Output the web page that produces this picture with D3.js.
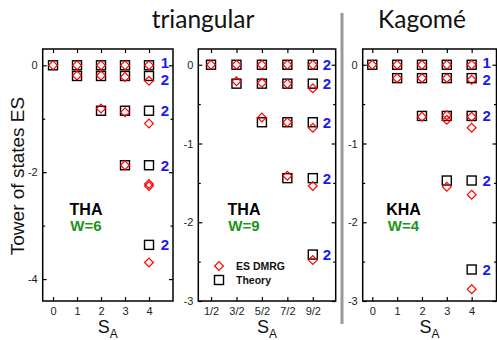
<!DOCTYPE html>
<html>
<head>
<meta charset="utf-8">
<script src="https://cdn.jsdelivr.net/npm/d3@7"></script>
<style>
  body { margin: 0; background: #fff; }
  svg { display: block; }
</style>
</head>
<body>
<script>
// x axis values (S_A)
var sInt = [0, 1, 2, 3, 4];
var sIntLabels = ["0", "1", "2", "3", "4"];
var sHalf = [0.5, 1.5, 2.5, 3.5, 4.5];
var sHalfLabels = ["1/2", "3/2", "5/2", "7/2", "9/2"];

// THA, W=6 : [S_A, ES level]
var thaW6Theory = [[0,0],[1,0],[2,0],[3,0],[4,0],
  [1,-0.2],[2,-0.2],[3,-0.2],[4,-0.2],
  [2,-0.85],[3,-0.85],[4,-0.85],
  [3,-1.87],[4,-1.87],
  [4,-3.36]];
var thaW6Dmrg = [[0,0],[1,0],[2,0],[3,0],[4,0],
  [1,-0.19],[2,-0.19],[3,-0.22],[4,-0.29],
  [2,-0.81],[3,-0.88],[4,-1.09],
  [3,-1.87],[4,-2.22],[4,-2.26],
  [4,-3.69]];
var thaW6Deg = [[0,1],[-0.2,2],[-0.85,2],[-1.87,2],[-3.36,2]];

// THA, W=9
var thaW9Theory = [[0.5,0],[1.5,0],[2.5,0],[3.5,0],[4.5,0],
  [1.5,-0.24],[2.5,-0.24],[3.5,-0.24],[4.5,-0.24],
  [2.5,-0.73],[3.5,-0.73],[4.5,-0.73],
  [3.5,-1.44],[4.5,-1.44],
  [4.5,-2.41]];
var thaW9Dmrg = [[0.5,0],[1.5,0],[2.5,0],[3.5,0],[4.5,0],
  [1.5,-0.21],[2.5,-0.23],[3.5,-0.24],[4.5,-0.3],
  [2.5,-0.67],[3.5,-0.73],[4.5,-0.8],
  [3.5,-1.41],[4.5,-1.54],
  [4.5,-2.48]];
var thaW9Deg = [[0,2],[-0.24,2],[-0.73,2],[-1.44,2],[-2.41,2]];

// KHA, W=4
var khaW4Theory = [[0,0],[1,0],[2,0],[3,0],[4,0],
  [1,-0.17],[2,-0.17],[3,-0.17],[4,-0.17],
  [2,-0.65],[3,-0.65],[4,-0.65],
  [3,-1.47],[4,-1.47],
  [4,-2.6]];
var khaW4Dmrg = [[0,0],[1,0],[2,0],[3,0],[4,0],
  [1,-0.17],[2,-0.17],[3,-0.17],[4,-0.19],
  [2,-0.66],[3,-0.64],[3,-0.7],[4,-0.66],[4,-0.8],
  [3,-1.55],[4,-1.65],
  [4,-2.85]];
var khaW4Deg = [[0,1],[-0.17,2],[-0.65,2],[-1.47,2],[-2.6,2]];

var width = 497, height = 340;
var svg = d3.select("body").append("svg")
  .attr("width", width)
  .attr("height", height);

var panels = [
  { left: 42.7, right: 173, xDomain: [-0.43, 5], yDomain: [0.305, -4.41],
    xTicks: sInt, xLabels: sIntLabels, yMajor: [0, -2, -4], yMinor: [-1, -3],
    theory: thaW6Theory, dmrg: thaW6Dmrg, deg: thaW6Deg,
    name: "THA", w: "W=6", nameX: 86, degDx: 16 },
  { left: 198.3, right: 335.7, xDomain: [0, 5.4], yDomain: [0.2, -3],
    xTicks: sHalf, xLabels: sHalfLabels, yMajor: [0, -1, -2, -3], yMinor: [-0.5, -1.5, -2.5],
    theory: thaW9Theory, dmrg: thaW9Dmrg, deg: thaW9Deg,
    name: "THA", w: "W=9", nameX: 244, degDx: 14, legend: true },
  { left: 362.7, right: 496.5, xDomain: [-0.386, 5], yDomain: [0.2, -3],
    xTicks: sInt, xLabels: sIntLabels, yMajor: [0, -1, -2, -3], yMinor: [-0.5, -1.5, -2.5],
    theory: khaW4Theory, dmrg: khaW4Dmrg, deg: khaW4Deg,
    name: "KHA", w: "W=4", nameX: 403.5, degDx: 15 }
];
var frameTop = 49, frameBottom = 301;

function diamond(cx, cy, r) {
  return "M" + cx + "," + (cy - r) + "L" + (cx + r) + "," + cy +
    "L" + cx + "," + (cy + r) + "L" + (cx - r) + "," + cy + "Z";
}

panels.forEach(function(p) {
  var x = d3.scaleLinear().domain(p.xDomain).range([p.left, p.right]);
  var y = d3.scaleLinear().domain(p.yDomain).range([frameTop, frameBottom]);
  var g = svg.append("g");

  //axes, ticks pointing inward
  g.append("g").attr("transform", "translate(0," + frameBottom + ")")
    .call(d3.axisBottom(x).tickValues(p.xTicks)
      .tickFormat(function(d, i){ return p.xLabels[i]; })
      .tickSizeInner(-4).tickSizeOuter(0).tickPadding(6));
  g.append("g").attr("transform", "translate(0," + frameTop + ")")
    .call(d3.axisTop(x).tickValues(p.xTicks).tickFormat("").tickSizeInner(-4).tickSizeOuter(0));
  g.append("g").attr("transform", "translate(" + p.left + ",0)")
    .call(d3.axisLeft(y).tickValues(p.yMajor).tickFormat(function(d){ return String(d); })
      .tickSizeInner(-4).tickSizeOuter(0).tickPadding(5));
  g.append("g").attr("transform", "translate(" + p.right + ",0)")
    .call(d3.axisRight(y).tickValues(p.yMajor).tickFormat("").tickSizeInner(-4).tickSizeOuter(0));
  g.append("g").attr("transform", "translate(" + p.left + ",0)")
    .call(d3.axisLeft(y).tickValues(p.yMinor).tickFormat("").tickSizeInner(-2.5).tickSizeOuter(0));
  g.append("g").attr("transform", "translate(" + p.right + ",0)")
    .call(d3.axisRight(y).tickValues(p.yMinor).tickFormat("").tickSizeInner(-2.5).tickSizeOuter(0));

  g.selectAll(".domain").remove();
  g.selectAll(".tick line").attr("stroke", "#000").attr("stroke-width", 1.2);
  g.selectAll(".tick text")
    .attr("font-family", "Liberation Sans, Arial, sans-serif")
    .attr("font-size", 11)
    .attr("fill", "#222");

  //frame
  g.append("rect")
    .attr("x", p.left).attr("y", frameTop)
    .attr("width", p.right - p.left).attr("height", frameBottom - frameTop)
    .attr("fill", "none").attr("stroke", "#000").attr("stroke-width", 1.5);

  //theory squares
  g.selectAll(".theory")
    .data(p.theory)
    .enter()
    .append("rect")
    .attr("class", "theory")
    .attr("x", function(d){ return x(d[0]) - 4.5; })
    .attr("y", function(d){ return y(d[1]) - 4.5; })
    .attr("width", 9).attr("height", 9)
    .attr("fill", "none").attr("stroke", "#000").attr("stroke-width", 1.4);

  //ES DMRG diamonds
  g.selectAll(".dmrg")
    .data(p.dmrg)
    .enter()
    .append("path")
    .attr("class", "dmrg")
    .attr("d", function(d){ return diamond(x(d[0]), y(d[1]), 4.4); })
    .attr("fill", "none").attr("stroke", "#ff0000").attr("stroke-width", 1.2);

  //degeneracy labels, nudge the top two apart when they are close
  var xEnd = x(p.xTicks[p.xTicks.length - 1]) + p.degDx;
  var ys = p.deg.map(function(d){ return y(d[0]); });
  var gap = ys[1] - ys[0];
  if (gap < 17) {
    ys[0] -= (17 - gap) / 2;
    ys[1] += (17 - gap) / 2;
  }
  g.selectAll(".deg")
    .data(p.deg)
    .enter()
    .append("text")
    .attr("class", "deg")
    .attr("x", xEnd)
    .attr("y", function(d, i){ return ys[i]; })
    .attr("dy", "0.36em")
    .attr("text-anchor", "middle")
    .attr("font-family", "Liberation Sans, Arial, sans-serif")
    .attr("font-weight", "bold")
    .attr("font-size", 15)
    .attr("fill", "#1a1aee")
    .text(function(d){ return d[1]; });

  //model name and width
  g.append("text")
    .attr("x", p.nameX).attr("y", 214.5)
    .attr("text-anchor", "middle")
    .attr("font-family", "Liberation Sans, Arial, sans-serif")
    .attr("font-weight", "bold").attr("font-size", 16)
    .attr("fill", "#000")
    .text(p.name);
  g.append("text")
    .attr("x", p.nameX).attr("y", 231)
    .attr("text-anchor", "middle")
    .attr("font-family", "Liberation Sans, Arial, sans-serif")
    .attr("font-weight", "bold").attr("font-size", 15)
    .attr("fill", "#1a961a")
    .text(p.w);

  //x axis title S_A
  var xt = g.append("text")
    .attr("x", (p.left + p.right) / 2).attr("y", 333)
    .attr("text-anchor", "middle")
    .attr("font-family", "Liberation Sans, Arial, sans-serif")
    .attr("font-size", 18)
    .attr("fill", "#111");
  xt.append("tspan").text("S");
  xt.append("tspan").attr("font-size", 12).attr("dy", 5).text("A");

  //legend
  if (p.legend) {
    g.append("path")
      .attr("d", diamond(219, 266, 4.4))
      .attr("fill", "none").attr("stroke", "#ff0000").attr("stroke-width", 1.2);
    g.append("rect")
      .attr("x", 219 - 4.5).attr("y", 280 - 4.5).attr("width", 9).attr("height", 9)
      .attr("fill", "none").attr("stroke", "#000").attr("stroke-width", 1.4);
    [["ES DMRG", 266], ["Theory", 280]].forEach(function(l) {
      g.append("text")
        .attr("x", 236).attr("y", l[1]).attr("dy", "0.36em")
        .attr("font-family", "Liberation Sans, Arial, sans-serif")
        .attr("font-weight", "bold").attr("font-size", 10.5)
        .attr("fill", "#111")
        .text(l[0]);
    });
  }
});

//separator between lattices
svg.append("line")
  .attr("x1", 342).attr("x2", 342).attr("y1", 13).attr("y2", 324)
  .attr("stroke", "#999").attr("stroke-width", 3);

//lattice titles
svg.append("text")
  .attr("x", 203).attr("y", 27.5).attr("text-anchor", "middle")
  .attr("font-family", "Lato, sans-serif").attr("font-size", 24.5)
  .attr("fill", "#111")
  .text("triangular");
svg.append("text")
  .attr("x", 422).attr("y", 27.5).attr("text-anchor", "middle")
  .attr("font-family", "Lato, sans-serif").attr("font-size", 24.5)
  .attr("fill", "#111")
  .text("Kagomé");

//y axis title
svg.append("text")
  .attr("transform", "translate(24,176) rotate(-90)")
  .attr("text-anchor", "middle")
  .attr("font-family", "Liberation Sans, Arial, sans-serif")
  .attr("font-size", 19)
  .attr("fill", "#111")
  .text("Tower of states ES");
</script>
</body>
</html>
